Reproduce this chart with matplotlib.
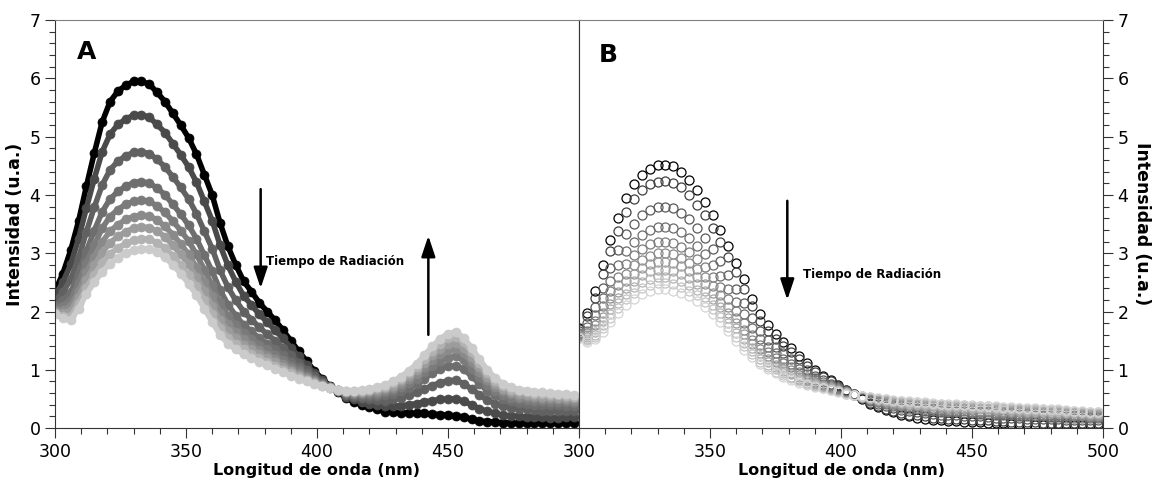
import numpy as np
import matplotlib
matplotlib.use("Agg")
import matplotlib.pyplot as plt
from matplotlib.ticker import MultipleLocator

# wavelength grid (nm), same for both panels
wl = np.arange(300, 499, 3)

# Panel A: spectra, first = t0 (black) ... last = longest irradiation (light gray)
a1 = [2.35, 2.65, 3.05, 3.55, 4.15, 4.72, 5.25, 5.60, 5.78, 5.88,
      5.95, 5.95, 5.90, 5.76, 5.60, 5.40, 5.20, 4.98, 4.70, 4.35,
      4.00, 3.52, 3.12, 2.80, 2.52, 2.34, 2.15, 2.00, 1.85, 1.68,
      1.50, 1.32, 1.15, 0.98, 0.84, 0.72, 0.62, 0.52, 0.45, 0.40,
      0.36, 0.32, 0.28, 0.27, 0.26, 0.26, 0.25, 0.25, 0.24, 0.23,
      0.22, 0.21, 0.19, 0.15, 0.12, 0.11, 0.10, 0.09, 0.09, 0.08,
      0.08, 0.08, 0.08, 0.08, 0.08, 0.09, 0.09]
a2 = [2.27, 2.50, 2.81, 3.25, 3.78, 4.28, 4.74, 5.04, 5.21, 5.30,
      5.37, 5.38, 5.33, 5.21, 5.07, 4.88, 4.69, 4.48, 4.22, 3.89,
      3.56, 3.14, 2.79, 2.51, 2.27, 2.11, 1.95, 1.82, 1.68, 1.54,
      1.38, 1.23, 1.08, 0.94, 0.82, 0.71, 0.63, 0.54, 0.49, 0.45,
      0.42, 0.40, 0.37, 0.38, 0.38, 0.40, 0.42, 0.45, 0.47, 0.49,
      0.50, 0.50, 0.46, 0.40, 0.33, 0.29, 0.25, 0.22, 0.21, 0.20,
      0.19, 0.19, 0.19, 0.18, 0.18, 0.19, 0.19]
a3 = [2.18, 2.33, 2.55, 2.92, 3.37, 3.79, 4.17, 4.43, 4.58, 4.67,
      4.73, 4.74, 4.71, 4.61, 4.48, 4.31, 4.13, 3.93, 3.68, 3.38,
      3.08, 2.71, 2.42, 2.19, 2.00, 1.86, 1.73, 1.61, 1.50, 1.38,
      1.25, 1.12, 1.00, 0.89, 0.79, 0.71, 0.64, 0.57, 0.53, 0.51,
      0.49, 0.48, 0.47, 0.49, 0.52, 0.56, 0.61, 0.67, 0.73, 0.78,
      0.81, 0.82, 0.76, 0.67, 0.57, 0.48, 0.42, 0.37, 0.35, 0.32,
      0.32, 0.31, 0.30, 0.30, 0.29, 0.30, 0.29]
a4 = [2.11, 2.19, 2.33, 2.65, 3.04, 3.39, 3.71, 3.93, 4.06, 4.15,
      4.21, 4.23, 4.20, 4.12, 4.00, 3.84, 3.67, 3.48, 3.25, 2.97,
      2.69, 2.37, 2.12, 1.93, 1.77, 1.66, 1.54, 1.45, 1.35, 1.25,
      1.14, 1.04, 0.94, 0.85, 0.77, 0.70, 0.64, 0.59, 0.56, 0.55,
      0.55, 0.55, 0.56, 0.59, 0.63, 0.69, 0.76, 0.85, 0.94, 1.01,
      1.06, 1.07, 1.01, 0.89, 0.76, 0.64, 0.56, 0.49, 0.46, 0.43,
      0.42, 0.40, 0.40, 0.39, 0.39, 0.38, 0.38]
a5 = [2.07, 2.10, 2.20, 2.49, 2.84, 3.14, 3.43, 3.63, 3.75, 3.84,
      3.89, 3.91, 3.89, 3.81, 3.70, 3.55, 3.39, 3.21, 2.98, 2.72,
      2.45, 2.16, 1.93, 1.77, 1.63, 1.53, 1.43, 1.35, 1.26, 1.17,
      1.07, 0.99, 0.90, 0.82, 0.76, 0.70, 0.65, 0.61, 0.59, 0.58,
      0.58, 0.59, 0.61, 0.65, 0.70, 0.77, 0.85, 0.96, 1.06, 1.15,
      1.21, 1.23, 1.16, 1.02, 0.87, 0.74, 0.64, 0.57, 0.52, 0.49,
      0.48, 0.46, 0.46, 0.45, 0.44, 0.44, 0.43]
a6 = [2.03, 2.03, 2.09, 2.35, 2.67, 2.94, 3.19, 3.38, 3.49, 3.58,
      3.63, 3.65, 3.64, 3.57, 3.46, 3.32, 3.16, 2.98, 2.76, 2.51,
      2.26, 1.98, 1.78, 1.64, 1.52, 1.43, 1.34, 1.26, 1.19, 1.10,
      1.02, 0.94, 0.87, 0.80, 0.74, 0.70, 0.65, 0.62, 0.60, 0.60,
      0.61, 0.62, 0.65, 0.69, 0.76, 0.84, 0.93, 1.05, 1.17, 1.27,
      1.34, 1.36, 1.28, 1.13, 0.97, 0.82, 0.71, 0.63, 0.58, 0.54,
      0.53, 0.51, 0.50, 0.50, 0.49, 0.48, 0.47]
a7 = [2.00, 1.98, 2.01, 2.25, 2.54, 2.79, 3.01, 3.18, 3.29, 3.37,
      3.43, 3.45, 3.44, 3.38, 3.28, 3.14, 2.98, 2.81, 2.59, 2.35,
      2.10, 1.85, 1.67, 1.54, 1.43, 1.35, 1.27, 1.20, 1.13, 1.05,
      0.98, 0.91, 0.85, 0.79, 0.74, 0.69, 0.66, 0.62, 0.62, 0.62,
      0.63, 0.65, 0.68, 0.73, 0.80, 0.89, 0.99, 1.12, 1.25, 1.36,
      1.44, 1.46, 1.37, 1.22, 1.04, 0.88, 0.76, 0.67, 0.62, 0.58,
      0.57, 0.55, 0.54, 0.53, 0.52, 0.52, 0.51]
a8 = [1.97, 1.93, 1.92, 2.14, 2.41, 2.63, 2.83, 2.99, 3.09, 3.17,
      3.22, 3.25, 3.24, 3.18, 3.09, 2.96, 2.80, 2.63, 2.43, 2.19,
      1.95, 1.72, 1.55, 1.44, 1.35, 1.27, 1.20, 1.14, 1.07, 1.00,
      0.94, 0.88, 0.82, 0.77, 0.73, 0.69, 0.66, 0.63, 0.63, 0.64,
      0.65, 0.68, 0.71, 0.77, 0.84, 0.94, 1.05, 1.19, 1.33, 1.45,
      1.54, 1.56, 1.47, 1.31, 1.12, 0.95, 0.81, 0.72, 0.66, 0.63,
      0.61, 0.59, 0.58, 0.57, 0.56, 0.55, 0.54]
a9 = [1.95, 1.88, 1.85, 2.05, 2.30, 2.50, 2.68, 2.82, 2.92, 3.00,
      3.05, 3.08, 3.07, 3.02, 2.93, 2.80, 2.65, 2.48, 2.28, 2.05,
      1.82, 1.60, 1.45, 1.35, 1.27, 1.20, 1.14, 1.08, 1.02, 0.96,
      0.90, 0.85, 0.80, 0.76, 0.72, 0.69, 0.66, 0.64, 0.64, 0.65,
      0.67, 0.70, 0.74, 0.80, 0.88, 0.98, 1.10, 1.25, 1.40, 1.53,
      1.62, 1.65, 1.55, 1.38, 1.18, 1.00, 0.86, 0.76, 0.70, 0.66,
      0.64, 0.62, 0.61, 0.60, 0.59, 0.58, 0.57]

# Panel B
b1 = [1.72, 1.98, 2.35, 2.80, 3.22, 3.60, 3.95, 4.18, 4.34, 4.45,
      4.51, 4.52, 4.49, 4.40, 4.26, 4.08, 3.88, 3.65, 3.40, 3.12,
      2.84, 2.55, 2.22, 1.95, 1.77, 1.62, 1.48, 1.37, 1.24, 1.12,
      1.00, 0.90, 0.82, 0.74, 0.66, 0.58, 0.50, 0.42, 0.36, 0.31,
      0.27, 0.23, 0.20, 0.18, 0.16, 0.14, 0.13, 0.12, 0.12, 0.11,
      0.10, 0.10, 0.09, 0.08, 0.08, 0.07, 0.07, 0.07, 0.06, 0.06,
      0.06, 0.06, 0.05, 0.05, 0.05, 0.05, 0.05]
b2 = [1.70, 1.92, 2.24, 2.65, 3.04, 3.39, 3.71, 3.93, 4.08, 4.18,
      4.23, 4.24, 4.21, 4.13, 4.00, 3.83, 3.65, 3.43, 3.20, 2.93,
      2.67, 2.39, 2.09, 1.84, 1.67, 1.53, 1.40, 1.30, 1.18, 1.07,
      0.96, 0.87, 0.80, 0.72, 0.65, 0.58, 0.51, 0.43, 0.38, 0.33,
      0.30, 0.26, 0.23, 0.22, 0.20, 0.18, 0.17, 0.16, 0.16, 0.15,
      0.14, 0.14, 0.13, 0.12, 0.12, 0.11, 0.11, 0.10, 0.10, 0.09,
      0.09, 0.09, 0.08, 0.08, 0.08, 0.08, 0.08]
b3 = [1.66, 1.81, 2.07, 2.41, 2.74, 3.05, 3.33, 3.51, 3.65, 3.74,
      3.79, 3.79, 3.77, 3.69, 3.58, 3.43, 3.27, 3.07, 2.86, 2.62,
      2.38, 2.14, 1.88, 1.66, 1.51, 1.39, 1.28, 1.19, 1.08, 0.99,
      0.90, 0.83, 0.76, 0.70, 0.64, 0.58, 0.52, 0.46, 0.41, 0.38,
      0.34, 0.31, 0.29, 0.27, 0.26, 0.24, 0.23, 0.22, 0.22, 0.21,
      0.20, 0.20, 0.19, 0.18, 0.18, 0.17, 0.17, 0.16, 0.16, 0.15,
      0.15, 0.15, 0.14, 0.14, 0.13, 0.13, 0.13]
b4 = [1.63, 1.73, 1.94, 2.23, 2.52, 2.79, 3.04, 3.20, 3.32, 3.40,
      3.45, 3.45, 3.43, 3.36, 3.26, 3.13, 2.98, 2.80, 2.61, 2.39,
      2.17, 1.95, 1.72, 1.53, 1.39, 1.28, 1.18, 1.10, 1.01, 0.93,
      0.86, 0.79, 0.74, 0.68, 0.63, 0.58, 0.53, 0.48, 0.44, 0.41,
      0.38, 0.35, 0.33, 0.32, 0.30, 0.29, 0.28, 0.27, 0.27, 0.26,
      0.25, 0.24, 0.24, 0.23, 0.22, 0.22, 0.21, 0.21, 0.20, 0.20,
      0.19, 0.19, 0.18, 0.18, 0.17, 0.17, 0.17]
b5 = [1.61, 1.67, 1.84, 2.09, 2.35, 2.60, 2.82, 2.97, 3.08, 3.15,
      3.19, 3.19, 3.17, 3.11, 3.02, 2.90, 2.76, 2.60, 2.42, 2.22,
      2.01, 1.80, 1.60, 1.42, 1.30, 1.20, 1.11, 1.04, 0.96, 0.88,
      0.82, 0.76, 0.72, 0.67, 0.62, 0.57, 0.53, 0.49, 0.45, 0.43,
      0.40, 0.38, 0.36, 0.35, 0.33, 0.32, 0.31, 0.30, 0.30, 0.29,
      0.28, 0.27, 0.27, 0.26, 0.25, 0.25, 0.24, 0.24, 0.23, 0.23,
      0.22, 0.22, 0.21, 0.21, 0.20, 0.19, 0.19]
b6 = [1.59, 1.63, 1.76, 1.98, 2.23, 2.45, 2.65, 2.79, 2.89, 2.96,
      3.00, 3.00, 2.98, 2.92, 2.84, 2.73, 2.60, 2.44, 2.28, 2.08,
      1.89, 1.69, 1.51, 1.35, 1.23, 1.14, 1.05, 0.99, 0.91, 0.85,
      0.79, 0.74, 0.70, 0.66, 0.61, 0.57, 0.54, 0.50, 0.47, 0.45,
      0.42, 0.40, 0.39, 0.37, 0.36, 0.35, 0.34, 0.33, 0.33, 0.32,
      0.31, 0.30, 0.30, 0.29, 0.28, 0.28, 0.27, 0.26, 0.26, 0.25,
      0.25, 0.25, 0.24, 0.23, 0.22, 0.21, 0.21]
b7 = [1.58, 1.59, 1.70, 1.90, 2.13, 2.34, 2.52, 2.65, 2.75, 2.81,
      2.85, 2.85, 2.83, 2.78, 2.70, 2.60, 2.47, 2.32, 2.17, 1.98,
      1.80, 1.61, 1.44, 1.29, 1.18, 1.09, 1.01, 0.95, 0.88, 0.82,
      0.77, 0.73, 0.69, 0.65, 0.61, 0.57, 0.54, 0.51, 0.48, 0.46,
      0.43, 0.42, 0.40, 0.39, 0.38, 0.37, 0.36, 0.35, 0.35, 0.34,
      0.33, 0.32, 0.32, 0.31, 0.30, 0.30, 0.29, 0.28, 0.28, 0.27,
      0.26, 0.26, 0.25, 0.25, 0.24, 0.23, 0.23]
b8 = [1.57, 1.56, 1.65, 1.83, 2.04, 2.24, 2.41, 2.53, 2.63, 2.69,
      2.72, 2.72, 2.70, 2.65, 2.58, 2.48, 2.36, 2.22, 2.07, 1.89,
      1.71, 1.53, 1.38, 1.24, 1.13, 1.05, 0.98, 0.92, 0.85, 0.80,
      0.76, 0.72, 0.68, 0.64, 0.60, 0.57, 0.54, 0.51, 0.49, 0.47,
      0.45, 0.43, 0.42, 0.41, 0.40, 0.38, 0.37, 0.36, 0.36, 0.35,
      0.34, 0.34, 0.33, 0.32, 0.32, 0.31, 0.31, 0.30, 0.30, 0.29,
      0.28, 0.28, 0.27, 0.26, 0.25, 0.24, 0.24]
b9 = [1.56, 1.53, 1.60, 1.77, 1.96, 2.14, 2.30, 2.42, 2.50, 2.56,
      2.59, 2.59, 2.57, 2.53, 2.46, 2.37, 2.25, 2.12, 1.98, 1.81,
      1.63, 1.46, 1.32, 1.19, 1.09, 1.01, 0.94, 0.88, 0.83, 0.78,
      0.74, 0.70, 0.67, 0.63, 0.60, 0.57, 0.55, 0.52, 0.50, 0.48,
      0.46, 0.45, 0.43, 0.42, 0.41, 0.40, 0.39, 0.38, 0.38, 0.37,
      0.36, 0.35, 0.35, 0.34, 0.33, 0.33, 0.32, 0.31, 0.31, 0.30,
      0.29, 0.29, 0.28, 0.28, 0.27, 0.26, 0.26]
b10 = [1.55, 1.51, 1.56, 1.71, 1.89, 2.06, 2.21, 2.32, 2.40, 2.46,
       2.49, 2.49, 2.47, 2.42, 2.36, 2.28, 2.16, 2.04, 1.90, 1.73,
       1.57, 1.40, 1.27, 1.14, 1.05, 0.97, 0.91, 0.86, 0.80, 0.76,
       0.72, 0.69, 0.66, 0.63, 0.59, 0.57, 0.55, 0.53, 0.50, 0.49,
       0.47, 0.46, 0.45, 0.44, 0.43, 0.42, 0.41, 0.40, 0.40, 0.39,
       0.38, 0.37, 0.37, 0.36, 0.35, 0.35, 0.34, 0.33, 0.33, 0.32,
       0.31, 0.31, 0.30, 0.29, 0.28, 0.27, 0.27]
b11 = [1.54, 1.48, 1.52, 1.65, 1.82, 1.98, 2.12, 2.22, 2.30, 2.35,
       2.38, 2.38, 2.36, 2.32, 2.26, 2.18, 2.07, 1.95, 1.82, 1.66,
       1.50, 1.34, 1.22, 1.10, 1.01, 0.94, 0.88, 0.83, 0.78, 0.74,
       0.71, 0.68, 0.65, 0.62, 0.59, 0.57, 0.55, 0.53, 0.51, 0.50,
       0.48, 0.47, 0.46, 0.45, 0.44, 0.43, 0.42, 0.41, 0.41, 0.40,
       0.39, 0.38, 0.38, 0.37, 0.36, 0.36, 0.35, 0.34, 0.34, 0.33,
       0.32, 0.32, 0.31, 0.30, 0.29, 0.28, 0.28]

series_a = [a1, a2, a3, a4, a5, a6, a7, a8, a9]
series_b = [b1, b2, b3, b4, b5, b6, b7, b8, b9, b10, b11]
colors_a = ["#000000", "#4a4a4a", "#616161", "#6e6e6e", "#7b7b7b",
            "#8a8a8a", "#9c9c9c", "#b2b2b2", "#cbcbcb"]
colors_b = ["#000000", "#404040", "#5a5a5a", "#6c6c6c", "#7c7c7c", "#8a8a8a",
            "#989898", "#a6a6a6", "#b4b4b4", "#c4c4c4", "#d4d4d4"]

xlabel = "Longitud de onda (nm)"
ylabel = "Intensidad (u.a.)"
arrow_label = "Tiempo de Radiación"

plt.rcParams["font.family"] = ["DejaVu Sans"]

fig, (axA, axB) = plt.subplots(1, 2, figsize=(11.55, 4.92), dpi=100,
                               gridspec_kw=dict(wspace=0))
fig.subplots_adjust(left=0.0476, right=0.955, top=0.959, bottom=0.13)

# dark first, lightest on top; thick line behind the dots so the
# sampled points read as one band, like the instrument trace
for ys, c in zip(series_a, colors_a):
    axA.plot(wl, ys, ls="-", lw=4.0, color=c, marker="o", ms=6.5,
             mfc=c, mec=c, mew=0.5, solid_capstyle="round")
for ys, c in zip(series_b, colors_b):
    axB.plot(wl, ys, ls="none", marker="o", ms=6.5, mfc="none", mec=c,
             mew=0.9)

spine_col = "#333333"
for ax in (axA, axB):
    ax.set_xlim(300, 500)
    ax.set_ylim(0, 7)
    ax.xaxis.set_minor_locator(MultipleLocator(10))
    ax.yaxis.set_major_locator(MultipleLocator(1))
    ax.yaxis.set_minor_locator(MultipleLocator(0.2))
    ax.tick_params(which="both", direction="out", colors=spine_col,
                   labelcolor="black", labelsize=12.5, width=0.8)
    ax.tick_params(which="major", length=7)
    ax.tick_params(which="minor", length=4)
    for s in ax.spines.values():
        s.set_color(spine_col)
        s.set_linewidth(0.8)
        s.set_zorder(5)
    ax.spines["top"].set_color("#808080")
    ax.set_xlabel(xlabel, fontsize=11.5, fontweight="bold", labelpad=2)

axA.set_xticks([300, 350, 400, 450])
axA.set_ylabel(ylabel, fontsize=12.5, fontweight="bold", labelpad=4)
axA.tick_params(axis="y", which="both", right=False)

axB.set_xticks([300, 350, 400, 450, 500])
axB.yaxis.tick_right()
axB.yaxis.set_label_position("right")
axB.set_ylabel(ylabel, fontsize=12.5, fontweight="bold", rotation=270,
               labelpad=16)
axB.tick_params(axis="y", which="both", left=False)

# panel letters
axA.text(308.5, 6.45, "A", fontsize=18, fontweight="bold", va="center")
axB.text(307.5, 6.4, "B", fontsize=18, fontweight="bold", va="center")

# arrows
head = dict(arrowstyle="-|>,head_width=0.3,head_length=0.9", lw=1.8,
            color="black", mutation_scale=14, shrinkA=0, shrinkB=0)
axA.annotate("", xy=(378.5, 2.4), xytext=(378.5, 4.1), arrowprops=head)
axA.annotate("", xy=(442.5, 3.3), xytext=(442.5, 1.6), arrowprops=head)
axA.text(380.5, 2.85, arrow_label, fontsize=8.5, fontweight="bold",
         va="center", ha="left")
axB.annotate("", xy=(379.5, 2.2), xytext=(379.5, 3.9), arrowprops=head)
axB.text(385.5, 2.63, arrow_label, fontsize=8.5, fontweight="bold",
         va="center", ha="left")

fig.savefig("out.png", dpi=100)
